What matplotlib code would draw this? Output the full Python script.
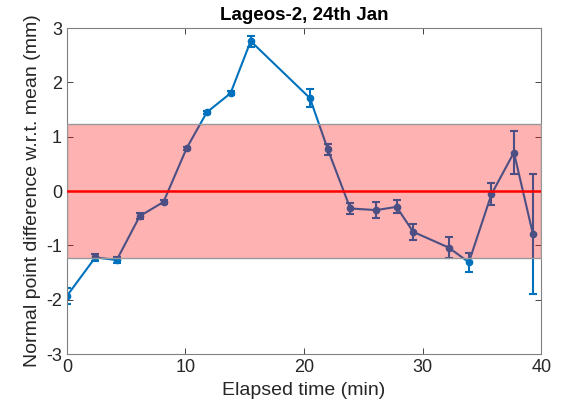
import numpy as np
import matplotlib.pyplot as plt

plt.rcParams['font.family'] = ['Liberation Sans', 'DejaVu Sans']
plt.rcParams['axes.unicode_minus'] = False

# elapsed time (min), difference w.r.t. mean (mm), error (mm)
t = [0.0, 2.4, 4.2, 6.15, 8.15, 10.1, 11.8, 13.8, 15.5, 20.5,
     22.0, 23.9, 26.1, 27.8, 29.2, 32.2, 33.9, 35.8, 37.7, 39.3]
diff = [-1.93, -1.22, -1.27, -0.46, -0.20, 0.79, 1.45, 1.80, 2.76, 1.71,
        0.77, -0.32, -0.35, -0.29, -0.75, -1.04, -1.31, -0.06, 0.71, -0.79]
err = [0.14, 0.06, 0.05, 0.06, 0.03, 0.03, 0.03, 0.04, 0.10, 0.17,
       0.10, 0.10, 0.14, 0.12, 0.15, 0.20, 0.17, 0.20, 0.40, 1.11]
band = 1.23

fig = plt.figure(figsize=(5.62, 4.07), dpi=100)
ax = fig.add_axes([0.119, 0.130, 0.844, 0.801])

ax.errorbar(t, diff, yerr=err, color='#0072BD', marker='o', markersize=4.5,
            linewidth=1.5, capsize=3, elinewidth=1.5, capthick=1.5, zorder=2)

# band of +/- 1.23 mm drawn on top of the line
ax.fill_between([0, 40], -band, band, facecolor=(1, 0, 0, 0.3),
                edgecolor='#999999', linewidth=1, zorder=3)
ax.axhline(0, color='#ff0000', linewidth=1.8, zorder=4)

ax.set_xlim(0, 40)
ax.set_ylim(-3, 3)
ax.set_xticks([0, 10, 20, 30, 40])
ax.set_yticks([-3, -2, -1, 0, 1, 2, 3])
ax.tick_params(direction='in', top=True, right=True, labelsize=13,
               colors='#262626', width=0.6, length=4)
for s in ax.spines.values():
    s.set_color('#808080')
    s.set_linewidth(0.8)

ax.set_xlabel('Elapsed time (min)', fontsize=14, color='#262626')
ax.set_ylabel('Normal point difference w.r.t. mean (mm)', fontsize=14, color='#262626')
ax.set_title('Lageos-2, 24th Jan', fontsize=13.5, fontweight='bold')

fig.savefig('out.png', dpi=100)
